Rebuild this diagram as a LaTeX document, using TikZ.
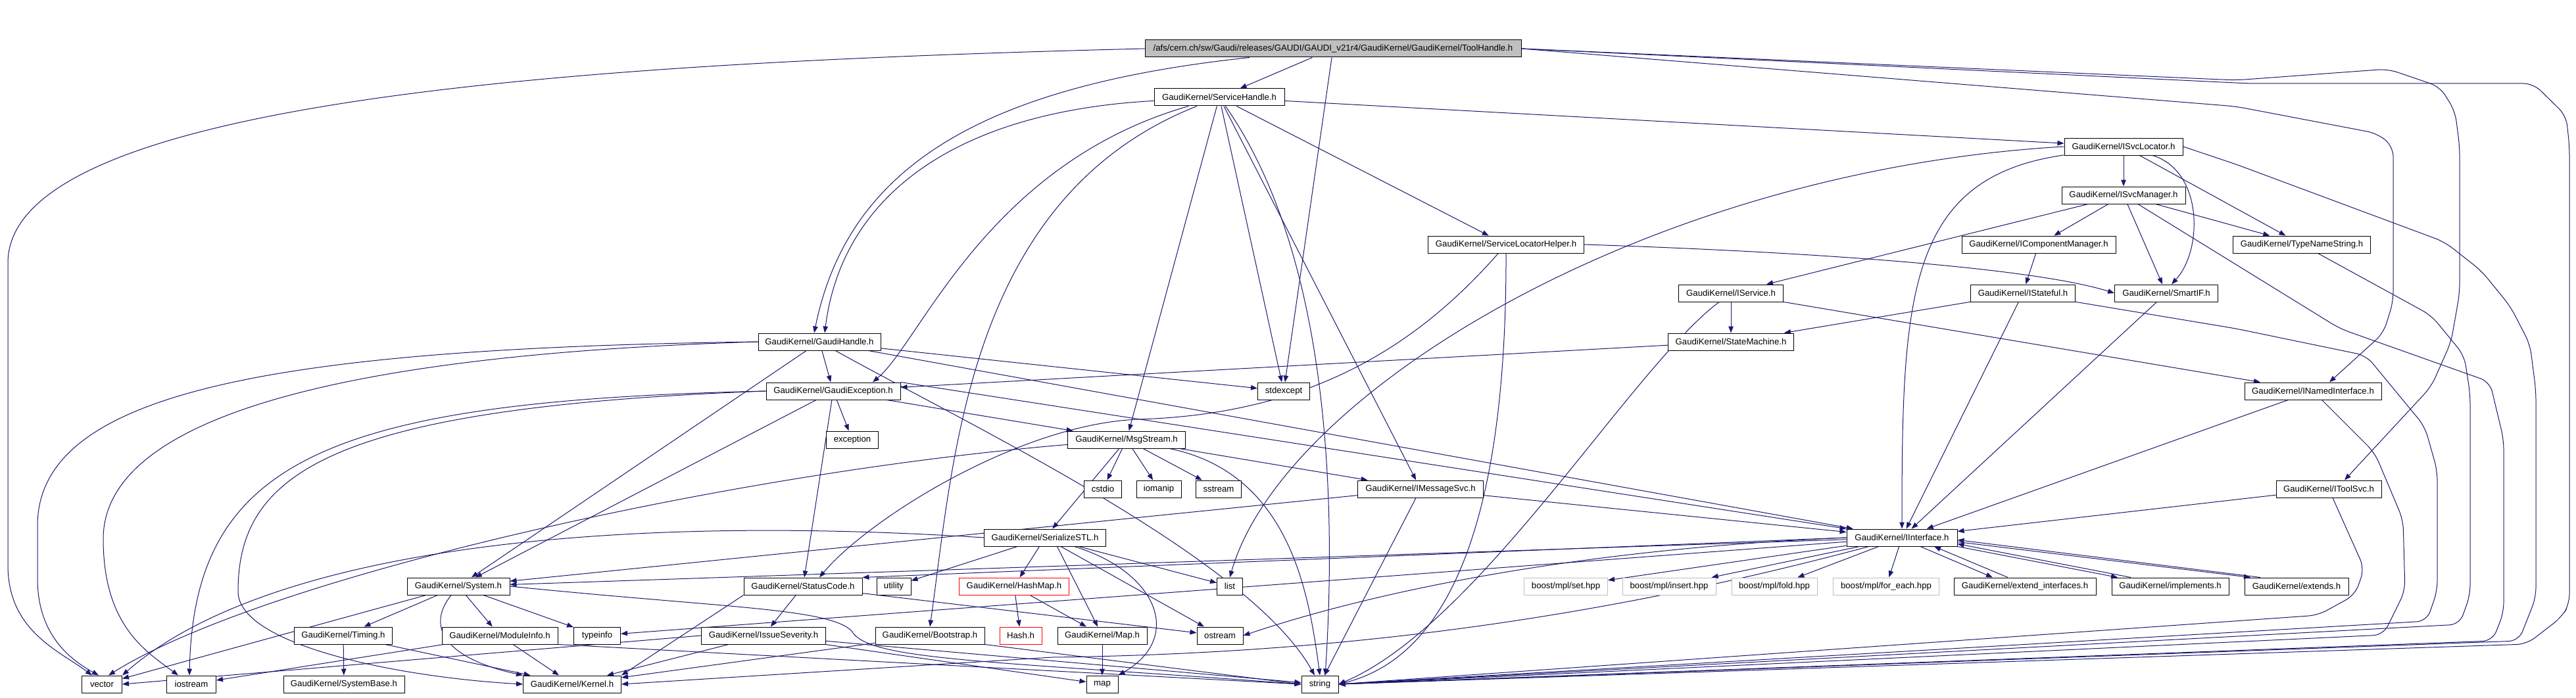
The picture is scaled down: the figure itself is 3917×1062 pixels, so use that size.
\documentclass[tikz,border=0pt]{standalone}
\usepackage{fontspec}
\setmainfont{Liberation Sans}
\usetikzlibrary{arrows.meta,backgrounds}
\definecolor{kante}{RGB}{25,25,112}
\definecolor{grau}{RGB}{191,191,191}
\definecolor{rot}{RGB}{255,0,0}

\begin{document}
\begin{tikzpicture}[x=1pt, y=-1pt,
    >={Triangle[length=10pt,width=7.5pt]},   %Pfeilspitzen
    hdr/.style={draw=black, line width=1pt, fill=white, inner sep=0pt,
                minimum height=26, font=\fontsize{13.2}{15}\selectfont},
    sysinc/.style={hdr, draw=grau},
    cut/.style={hdr, draw=rot},
    dep/.style={->, draw=kante, line width=1pt}]
    \useasboundingbox (0,0) rectangle (3917,1062);
    %Knoten
    \node[hdr, fill=grau, minimum width=572] (th) at (2027,74) {/afs/cern.ch/sw/Gaudi/releases/GAUDI/GAUDI\_v21r4/GaudiKernel/GaudiKernel/ToolHandle.h};
    \node[hdr, minimum width=198] (sh) at (1854,148) {GaudiKernel/ServiceHandle.h};
    \node[hdr, minimum width=180] (isl) at (3229,223) {GaudiKernel/ISvcLocator.h};
    \node[hdr, minimum width=188] (ism) at (3229,297) {GaudiKernel/ISvcManager.h};
    \node[hdr, minimum width=237] (slh) at (2290,372) {GaudiKernel/ServiceLocatorHelper.h};
    \node[hdr, minimum width=234] (icm) at (3100,372) {GaudiKernel/IComponentManager.h};
    \node[hdr, minimum width=209] (tns) at (3500,372) {GaudiKernel/TypeNameString.h};
    \node[hdr, minimum width=159] (isv) at (2632,446) {GaudiKernel/IService.h};
    \node[hdr, minimum width=159] (ist) at (3076,446) {GaudiKernel/IStateful.h};
    \node[hdr, minimum width=157] (sif) at (3294,446) {GaudiKernel/SmartIF.h};
    \node[hdr, minimum width=186] (gh) at (1246,520) {GaudiKernel/GaudiHandle.h};
    \node[hdr, minimum width=191] (stm) at (2632,520) {GaudiKernel/StateMachine.h};
    \node[hdr, minimum width=204] (gex) at (1267,595) {GaudiKernel/GaudiException.h};
    \node[hdr, minimum width=79] (sexc) at (1952,595) {stdexcept};
    \node[hdr, minimum width=208] (ini) at (3517,595) {GaudiKernel/INamedInterface.h};
    \node[hdr, minimum width=79] (exc) at (1296,669) {exception};
    \node[hdr, minimum width=179] (msg) at (1713,669) {GaudiKernel/MsgStream.h};
    \node[hdr, minimum width=57] (cstdio) at (1677,744) {cstdio};
    \node[hdr, minimum width=68] (iomanip) at (1762,744) {iomanip};
    \node[hdr, minimum width=69] (sstream) at (1853,744) {sstream};
    \node[hdr, minimum width=191] (ims) at (2160,744) {GaudiKernel/IMessageSvc.h};
    \node[hdr, minimum width=160] (its) at (3541,744) {GaudiKernel/IToolSvc.h};
    \node[hdr, minimum width=185] (ser) at (1589,818) {GaudiKernel/SerializeSTL.h};
    \node[hdr, minimum width=168] (ii) at (2892,818) {GaudiKernel/IInterface.h};
    \node[hdr, minimum width=156] (sys) at (697,892) {GaudiKernel/System.h};
    \node[hdr, minimum width=180] (sc) at (1221,892) {GaudiKernel/StatusCode.h};
    \node[hdr, minimum width=52] (util) at (1359,892) {utility};
    \node[cut, minimum width=167] (hm) at (1542,892) {GaudiKernel/HashMap.h};
    \node[hdr, minimum width=39] (lst) at (1870,892) {list};
    \node[sysinc, minimum width=127] (bset) at (2381,892) {boost/mpl/set.hpp};
    \node[sysinc, minimum width=142] (bins) at (2538,892) {boost/mpl/insert.hpp};
    \node[sysinc, minimum width=130] (bfold) at (2698,892) {boost/mpl/fold.hpp};
    \node[sysinc, minimum width=161] (bfe) at (2868,892) {boost/mpl/for\_each.hpp};
    \node[hdr, minimum width=216] (ei) at (3079,892) {GaudiKernel/extend\_interfaces.h};
    \node[hdr, minimum width=178] (impl) at (3300,892) {GaudiKernel/implements.h};
    \node[hdr, minimum width=158] (exts) at (3492,892) {GaudiKernel/extends.h};
    \node[hdr, minimum width=149] (tim) at (522,967) {GaudiKernel/Timing.h};
    \node[hdr, minimum width=176] (mi) at (760,967) {GaudiKernel/ModuleInfo.h};
    \node[hdr, minimum width=71] (ti) at (908,967) {typeinfo};
    \node[hdr, minimum width=189] (is) at (1161,967) {GaudiKernel/IssueSeverity.h};
    \node[hdr, minimum width=166] (bs) at (1414,967) {GaudiKernel/Bootstrap.h};
    \node[cut, minimum width=64] (hash) at (1552,967) {Hash.h};
    \node[hdr, minimum width=136] (mapH) at (1676,967) {GaudiKernel/Map.h};
    \node[hdr, minimum width=70] (os) at (1855,967) {ostream};
    \node[hdr, minimum width=61] (vec) at (155,1041) {vector};
    \node[hdr, minimum width=75] (ios) at (291,1041) {iostream};
    \node[hdr, minimum width=184] (sb) at (523,1041) {GaudiKernel/SystemBase.h};
    \node[hdr, minimum width=149] (ker) at (870,1041) {GaudiKernel/Kernel.h};
    \node[hdr, minimum width=48] (mp) at (1676,1041) {map};
    \node[hdr, minimum width=56] (str) at (2007,1041) {string};

    %Kanten
    \begin{pgfonlayer}{background}
    \fill[white] (0,0) rectangle (3917,1062);
    \foreach \a/\b in {th/sh, th/sexc, sh/slh, sh/isl, sh/msg, sh/sexc, sh/ims,
        isl/ism, isl/tns, ism/icm, ism/tns, ism/isv, icm/ist,
        isv/stm, isv/ini, ist/stm, ist/ii, sif/ii, stm/gex,
        gh/gex, gh/sexc, gh/sys, gh/ii, gex/exc, gex/msg, gex/sc, gex/sys,
        msg/cstdio, msg/iomanip, msg/sstream, msg/ser, msg/ims,
        ims/ii, ims/str, ims/sys, ini/ii, its/ii,
        ser/util, ser/hm, ser/os, ser/lst,
        ii/sys, ii/ti, ii/bset, ii/bins, ii/bfold, ii/bfe,
        sys/tim, sys/mi, sys/ti, sys/vec, sc/is, sc/os,
        hm/hash, hm/mapH, mapH/mp, tim/ker, tim/sb,
        mi/ker, mi/ios, is/ker, is/mp, is/str, bs/ker}
        \draw[dep] (\a) -- (\b);
    \draw[dep] (ism) -- ([xshift=-6pt]sif.north);
    \draw[dep] (gex.north east) -- (ii.north west);
    \draw[dep] (ii.west) -- (sc.north east);
    \draw[dep] (ser.south -| mapH.west) -- (mapH);
    \draw[dep] (sc.south west) -- (ker.north east);
    \draw[dep] (mi.south east) -- (str.west);
    \draw[dep] (bs.south east) -- (str.west);
    \draw[dep] (is.west) -- (vec.east);
    % ToolHandle
    \draw[dep] (th) .. controls (1500,130) and (1290,250) .. ([xshift=-8pt]gh.north);
    \draw[dep] (th.west) .. controls (900,95) and (12,150) .. (12,400) -- (12,860) .. controls (12,960) and (90,990) .. ([xshift=-15pt]vec.north);
    \draw[dep, rounded corners=15] (th.east) -- (3420,127) -- (3852,127) -- (3902,176) -- (3907,223) -- (3907,919) -- (3895,939) -- (3842,980) -- (str.east);
    \draw[dep, rounded corners=15] (th.east) -- (3400,122) -- (3631,105) -- (3710,132) -- (3733,169) -- (3740,223) -- (3740,446) -- (3727,520) -- (3697,588) -- ([xshift=24pt]its.north);
    \draw[dep, rounded corners=15] (th.east) -- (3400,162) -- (3615,203) -- (3639,223) -- (3639,459) -- (3624,507) -- ([xshift=25pt]ini.north);
    % ServiceHandle
    \draw[dep] (sh) .. controls (1450,170) and (1280,300) .. ([xshift=8pt]gh.north);
    \draw[dep] (sh) .. controls (1500,250) and (1400,520) .. ([xshift=60pt]gex.north);
    \draw[dep] (sh) .. controls (1470,300) and (1450,700) .. (bs.north);
    \draw[dep] (sh) .. controls (2030,400) and (2030,800) .. ([xshift=8pt]str.north);
    % ISvcLocator und Co.
    \draw[dep] (isl) .. controls (2900,270) and (2892,450) .. (ii.north);
    \draw[dep] (isl) .. controls (3350,260) and (3350,380) .. ([xshift=8pt]sif.north);
    \draw[dep] (isl.west) .. controls (2500,260) and (1950,600) .. (lst.north);
    \draw[dep, rounded corners=15] (isl.east) -- (3400,250) -- (3717,368) -- (3773,412) -- (3817,466) -- (3847,524) -- (3856,595) -- (3856,909) -- (3830,975) -- (str.east);
    \draw[dep, rounded corners=15] (ism) -- (3558,500) -- (3786,581) -- (3807,669) -- (3807,932) -- (3790,975) -- (str.east);
    \draw[dep, rounded corners=15] (tns) -- (3697,480) -- (3747,541) -- (3756,600) -- (3756,905) -- (3740,950) -- (str.east);
    \draw[dep, rounded corners=15] (ist) -- (3400,500) -- (3598,541) -- (3687,649) -- (3706,716) -- (3706,899) -- (3690,945) -- (str.east);
    \draw[dep, rounded corners=15] (ini) -- (3611,689) -- (3654,791) -- (3657,899) -- (3624,966) -- (str.east);
    \draw[dep, rounded corners=15] (its) -- (3595,865) -- (3581,905) -- (3525,936) -- (str.east);
    \draw[dep] (slh.south) .. controls (2291,800) and (2200,1000) .. (str.east);
    \draw[dep] (slh) .. controls (2160,520) and (2000,630) .. (1731,638) .. controls (1550,645) and (1320,790) .. ([xshift=25pt]sc.north);
    \draw[dep] (slh.east) .. controls (2800,385) and (3100,410) .. (sif.west);
    \draw[dep] (isv) .. controls (2480,560) and (2250,950) .. (str.east);
    % GaudiHandle, GaudiException
    \draw[dep] (gh.west) .. controls (400,530) and (57,600) .. (57,800) -- (57,880) .. controls (57,960) and (100,1000) .. ([xshift=-5pt]vec.north);
    \draw[dep] (gh.west) .. controls (500,540) and (157,640) .. (157,820) .. controls (157,950) and (220,990) .. ([xshift=-20pt]ios.north);
    \draw[dep] (gh) .. controls (1480,650) and (1900,850) .. ([xshift=-8pt]str.north);
    \draw[dep] (gex.west) .. controls (500,610) and (295,700) .. ([xshift=-3pt]ios.north);
    \draw[dep] (gex.west) .. controls (500,620) and (362,720) .. (362,900) .. controls (362,980) and (600,1030) .. (ker.west);
    % MsgStream, SerializeSTL
    \draw[dep] (msg) .. controls (1100,720) and (400,880) .. ([xshift=10pt]vec.north);
    \draw[dep] (msg) .. controls (1960,720) and (1990,900) .. (str.north);
    \draw[dep] (ser.west) .. controls (900,780) and (400,840) .. (vec.north east);
    \draw[dep] (ser) .. controls (1760,870) and (1800,970) .. (mp.north east);
    % IInterface
    \draw[dep] (ii.west) .. controls (2300,840) and (2000,930) .. (os.east);
    \draw[dep] (ii) .. controls (2400,950) and (2000,995) .. (1600,1000) -- (ker.east);
    \draw[dep] ([xshift=28pt]ii.south) -- ([xshift=-49pt]ei.north);
    \draw[dep] ([xshift=-26pt]ei.north) -- ([xshift=49pt]ii.south);
    \draw[dep] (ii.south east) -- ([xshift=-80pt]impl.north);
    \draw[dep] ([xshift=-60pt]impl.north) -- ([yshift=4pt]ii.south east);
    \draw[dep] ([yshift=7pt]ii.south east) -- ([xshift=-70pt]exts.north);
    \draw[dep] ([xshift=-55pt]exts.north) -- ([yshift=10pt]ii.south east);
    % System
    \draw[dep] (sys) .. controls (650,950) and (670,1000) .. (ker.north west);
    \draw[dep] (sys.east) .. controls (1100,925) and (1260,925) .. (1295,960) .. controls (1320,1005) and (1500,1005) .. (str.west);
    \end{pgfonlayer}
\end{tikzpicture}
\end{document}
